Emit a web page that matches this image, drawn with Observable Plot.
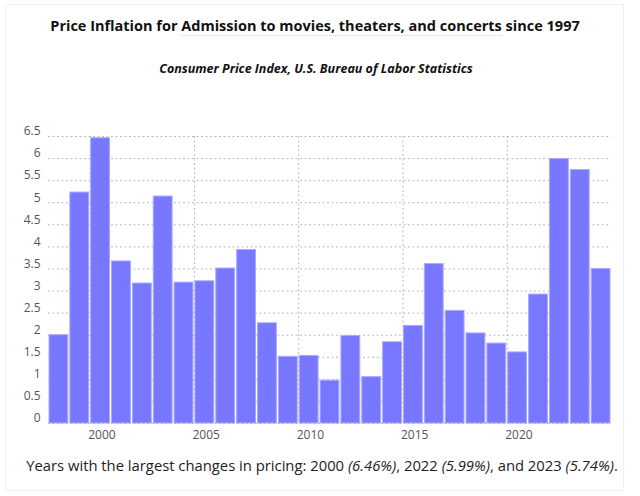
<!DOCTYPE html>
<html>
<head>
<meta charset="utf-8">
<script src="https://cdn.jsdelivr.net/npm/d3@7"></script>
<script src="https://cdn.jsdelivr.net/npm/@observablehq/plot@0.6"></script>
<style>
  html, body { margin: 0; padding: 0; background: #fff; }
  #wrap { position: relative; width: 640px; height: 496px; font-family: "Open Sans", "Noto Sans", sans-serif; }
  #frame { position: absolute; left: 5px; top: 4px; width: 619px; height: 487px; border: 1px solid #f0f0f0; box-sizing: border-box; }
  #title { position: absolute; left: 0; width: 630px; top: 16px; text-align: center; font-size: 14.5px; font-weight: 700; color: #111; }
  #title span { border-bottom: 1px dotted #d8d8d8; }
  #subtitle { position: absolute; left: 0; width: 632px; top: 60px; text-align: center; font-size: 12.5px; font-weight: 700; font-style: italic; color: #111; }
  #chart { position: absolute; left: 0; top: 100px; }
  #caption { position: absolute; left: 0; width: 644px; top: 455px; text-align: center; font-size: 14.8px; color: #222; }
</style>
</head>
<body>
<div id="wrap">
  <div id="frame"></div>
  <div id="title">Price Inflation for <span>Admission to movies, theaters, and concerts</span> since 1997</div>
  <div id="subtitle">Consumer Price Index, U.S. Bureau of Labor Statistics</div>
  <div id="chart"></div>
  <div id="caption">Years with the largest changes in pricing: 2000 <i>(6.46%)</i>, 2022 <i>(5.99%)</i>, and 2023 <i>(5.74%)</i>.</div>
</div>
<script>
const years = [1998,1999,2000,2001,2002,2003,2004,2005,2006,2007,2008,2009,2010,2011,2012,2013,2014,2015,2016,2017,2018,2019,2020,2021,2022,2023,2024];
const values = [2.00,5.23,6.46,3.67,3.17,5.14,3.19,3.22,3.51,3.93,2.27,1.51,1.53,0.97,1.98,1.05,1.84,2.21,3.61,2.55,2.04,1.81,1.61,2.92,5.99,5.74,3.50];
const xTicks = [2000,2005,2010,2015,2020];
const yTicks = [0,0.5,1,1.5,2,2.5,3,3.5,4,4.5,5,5.5,6,6.5];

const data = years.map((y, i) => ({year: y, value: values[i]}));

const chart = Plot.plot({
  width: 640,
  height: 350,
  marginTop: 36,
  marginBottom: 27,
  marginLeft: 48,
  marginRight: 29,
  style: {fontFamily: "'Open Sans', sans-serif", fontSize: "12px", color: "#555", background: "transparent"},
  x: {domain: [1998, 2025], label: null},
  y: {domain: [0, 6.5], label: null},
  marks: [
    Plot.gridY(yTicks, {stroke: "#bbb", strokeOpacity: 1, strokeDasharray: "2,2.5"}),
    Plot.gridX(xTicks, {stroke: "#bbb", strokeOpacity: 1, strokeDasharray: "2,2.5"}),
    Plot.rectY(data, {x1: "year", x2: d => d.year + 1, y: "value", fill: "#7777ff", stroke: "#a9a9ff", strokeWidth: 1, insetLeft: 1, insetRight: 1}),
    Plot.axisY(yTicks, {tickSize: 0, tickPadding: 8, dy: -5, tickFormat: d => String(d), fill: "#555", fontSize: 12}),
    Plot.axisX(xTicks, {tickSize: 0, tickPadding: 7, tickFormat: d => String(d), textAnchor: "start", dx: -2, fill: "#555", fontSize: 12})
  ]
});
document.getElementById("chart").appendChild(chart);
</script>
</body>
</html>
